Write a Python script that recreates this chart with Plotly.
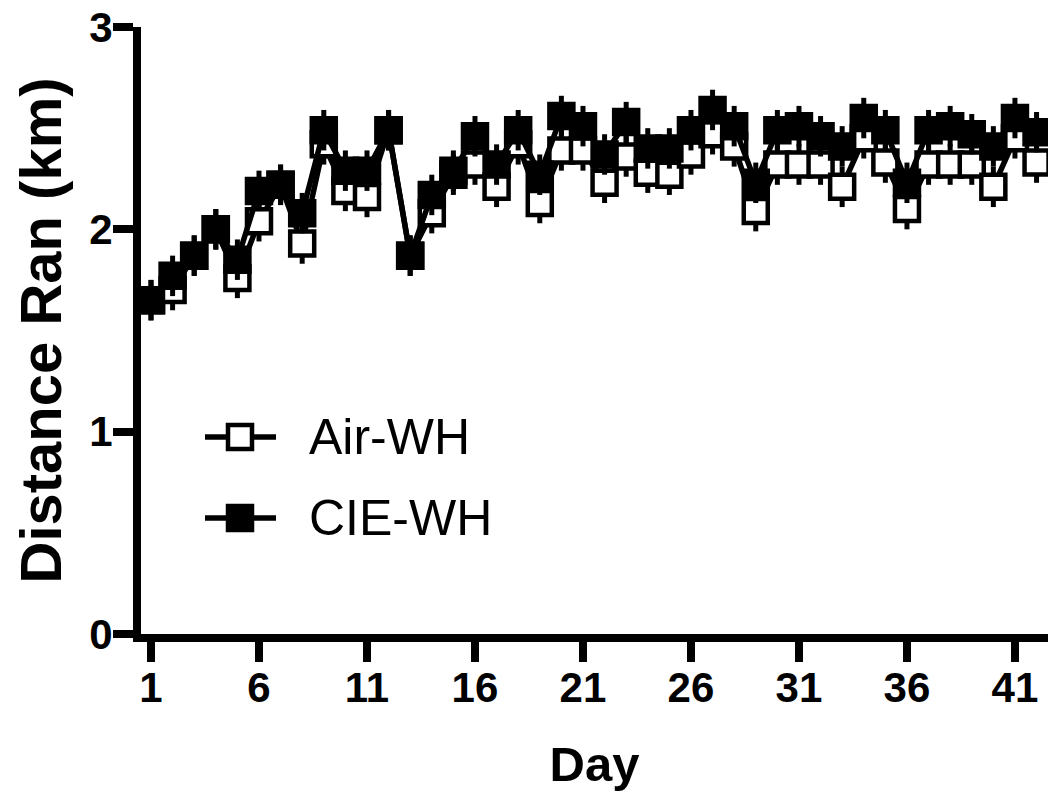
import plotly.graph_objects as go

days = list(range(1, 43))
air_wh = [1.65, 1.70, 1.87, 2.00, 1.76, 2.04, 2.22, 1.93, 2.42, 2.19,
          2.16, 2.49, 1.87, 2.08, 2.27, 2.32, 2.21, 2.42, 2.13, 2.39,
          2.39, 2.23, 2.36, 2.28, 2.27, 2.37, 2.47, 2.41, 2.09, 2.32,
          2.32, 2.32, 2.21, 2.45, 2.33, 2.10, 2.32, 2.32, 2.32, 2.21,
          2.45, 2.33]
cie_wh = [1.65, 1.77, 1.87, 2.00, 1.85, 2.19, 2.22, 2.08, 2.49, 2.29,
          2.29, 2.49, 1.87, 2.17, 2.29, 2.46, 2.32, 2.49, 2.27, 2.56,
          2.51, 2.37, 2.53, 2.40, 2.40, 2.49, 2.59, 2.51, 2.23, 2.49,
          2.51, 2.46, 2.41, 2.55, 2.49, 2.23, 2.49, 2.51, 2.47, 2.41,
          2.55, 2.48]
air_err = [0.10, 0.10, 0.10, 0.10, 0.10, 0.10, 0.10, 0.10, 0.10, 0.10,
           0.10, 0.10, 0.10, 0.10, 0.10, 0.10, 0.10, 0.10, 0.10, 0.10,
           0.10, 0.10, 0.10, 0.10, 0.10, 0.10, 0.10, 0.10, 0.10, 0.10,
           0.10, 0.10, 0.10, 0.10, 0.10, 0.10, 0.10, 0.10, 0.10, 0.10,
           0.10, 0.10]
cie_err = [0.10, 0.10, 0.10, 0.10, 0.10, 0.10, 0.10, 0.10, 0.10, 0.10,
           0.10, 0.10, 0.10, 0.10, 0.10, 0.10, 0.10, 0.10, 0.10, 0.10,
           0.10, 0.10, 0.10, 0.10, 0.10, 0.10, 0.10, 0.10, 0.10, 0.10,
           0.10, 0.10, 0.10, 0.10, 0.10, 0.10, 0.10, 0.10, 0.10, 0.10,
           0.10, 0.10]
x_ticks = [1, 6, 11, 16, 21, 26, 31, 36, 41]
y_ticks = [0, 1, 2, 3]
series_names = ["Air-WH", "CIE-WH"]

FONT = "Liberation Sans, Arial, sans-serif"
W, H = 1048, 792
ML, MR, MT, MB = 141, 0, 27, 158

fig = go.Figure()
fig.add_trace(go.Scatter(
    x=days, y=air_wh, name=series_names[0], mode="lines+markers",
    line=dict(color="black", width=5.5),
    marker=dict(symbol="square", size=24, color="white",
                line=dict(color="black", width=4.5)),
    error_y=dict(type="data", array=air_err, visible=True,
                 color="black", thickness=5, width=0),
    showlegend=False,
))
fig.add_trace(go.Scatter(
    x=days, y=cie_wh, name=series_names[1], mode="lines+markers",
    line=dict(color="black", width=5.5),
    marker=dict(symbol="square", size=24, color="black",
                line=dict(color="black", width=4.5)),
    error_y=dict(type="data", array=cie_err, visible=True,
                 color="black", thickness=5, width=0),
    showlegend=False,
))

# custom legend (large symbols as in the reference); positions in screen px
pw = W - ML - MR
ph = H - MT - MB
def px(xs):
    return (xs - ML) / pw
def py(ys):
    return (H - MB - ys) / ph

shapes = []
annotations = []
for i, (name, fill) in enumerate(zip(series_names, ["white", "black"])):
    yc = 437 + i * 81
    shapes.append(dict(type="line", xref="paper", yref="paper",
                       x0=px(205), x1=px(276), y0=py(yc), y1=py(yc),
                       line=dict(color="black", width=5.5)))
    shapes.append(dict(type="rect", xref="paper", yref="paper",
                       x0=px(228), x1=px(252), y0=py(yc + 12), y1=py(yc - 12),
                       fillcolor=fill, line=dict(color="black", width=4.5)))
    annotations.append(dict(xref="paper", yref="paper", x=px(307), y=py(yc),
                            xanchor="left", yanchor="middle", showarrow=False,
                            text=name, font=dict(family=FONT, size=50, color="black")))

fig.update_layout(
    width=W, height=H,
    margin=dict(l=ML, r=MR, t=MT, b=MB, autoexpand=False),
    paper_bgcolor="white", plot_bgcolor="white",
    font=dict(family=FONT, color="black"),
    shapes=shapes, annotations=annotations,
    showlegend=False,
)
fig.update_xaxes(
    range=[0.537, 42.53], tickvals=x_ticks, ticktext=[str(v) for v in x_ticks],
    showgrid=False, zeroline=False, showline=True, linecolor="black", linewidth=8,
    ticks="outside", ticklen=20, tickwidth=8, tickcolor="black",
    ticklabelstandoff=-10, ticklabeloverflow="allow",
    tickfont=dict(family=FONT, size=42, color="black", weight="bold"),
    title=dict(text="<b>Day</b>", font=dict(family=FONT, size=49, color="black"), standoff=39),
)
fig.update_yaxes(
    range=[0, 3], tickvals=y_ticks, ticktext=[str(v) for v in y_ticks],
    showgrid=False, zeroline=False, showline=True, linecolor="black", linewidth=8,
    ticks="outside", ticklen=20, tickwidth=8, tickcolor="black",
    ticklabelstandoff=-8, ticklabeloverflow="allow",
    tickfont=dict(family=FONT, size=42, color="black", weight="bold"),
    title=dict(text="<b>Distance Ran (km)</b>", font=dict(family=FONT, size=58, color="black"), standoff=12),
)

fig.write_html(
    "out.html",
    config={"displayModeBar": False},
    post_script="document.body.style.margin='0';document.body.style.overflow='hidden';",
)
